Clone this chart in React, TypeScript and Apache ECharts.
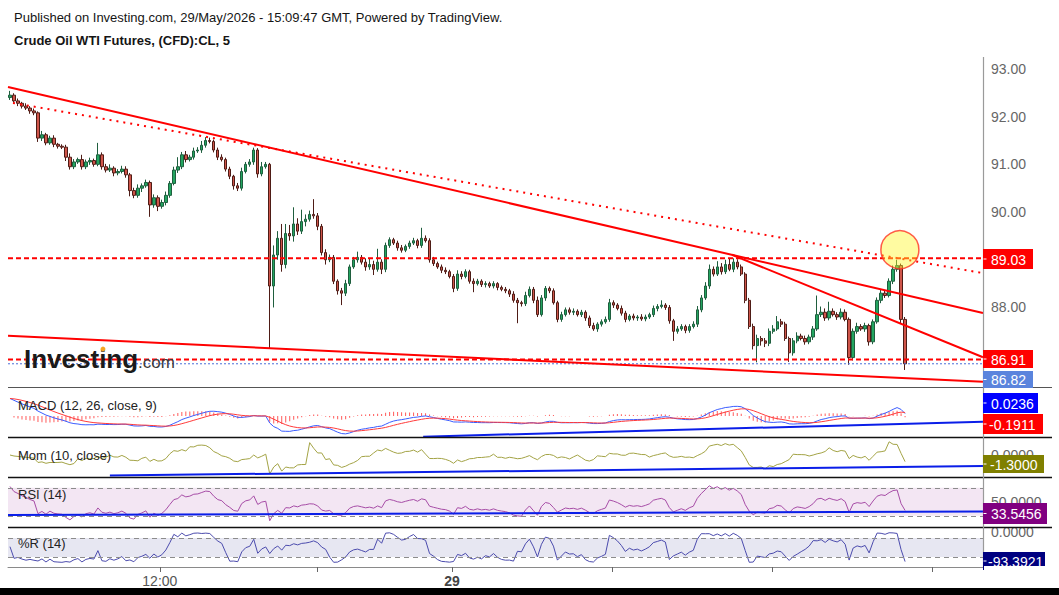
import React, { useEffect, useRef } from "react";
import * as echarts from "echarts";

// ---------- DATA ----------
const firstOpen = 92.4;
const closes = [
  92.45, 92.33, 92.28, 92.22, 92.18, 92.12, 92.08, 91.55, 91.62, 91.45,
  91.55, 91.42, 91.38, 91.36, 91.15, 90.95, 91.05, 91.1, 90.95, 91.05,
  91.08, 91.0, 91.2, 90.95, 90.88, 90.92, 90.82, 90.85, 90.9, 90.78,
  90.45, 90.35, 90.5, 90.55, 90.62, 90.15, 90.3, 90.12, 90.2, 90.35,
  90.6, 90.88, 90.95, 91.2, 91.1, 91.15, 91.28, 91.3, 91.4, 91.5,
  91.48, 91.3, 91.15, 91.1, 90.9, 90.75, 90.55, 90.5, 90.85, 91.0,
  91.05, 91.3, 90.8, 90.95, 91.0, 88.45, 89.1, 89.45, 88.9, 89.55,
  89.5, 89.75, 89.6, 89.8, 89.85, 89.95, 89.92, 89.7, 89.15, 89.0,
  89.05, 88.55, 88.35, 88.3, 88.5, 88.85, 89.0, 89.05, 88.95, 88.85,
  88.9, 88.8, 88.95, 88.8, 89.3, 89.42, 89.35, 89.25, 89.2, 89.28,
  89.35, 89.4, 89.3, 89.45, 89.4, 89.0, 88.92, 88.85, 88.78, 88.75,
  88.65, 88.4, 88.7, 88.65, 88.75, 88.55, 88.5, 88.55, 88.48, 88.5,
  88.45, 88.5, 88.42, 88.38, 88.35, 88.28, 88.15, 88.1, 88.08, 88.25,
  88.38, 88.15, 87.85, 88.2, 88.4, 88.35, 88.1, 87.75, 87.85, 87.95,
  87.9, 87.92, 87.85, 87.9, 87.78, 87.62, 87.55, 87.65, 87.7, 87.75,
  88.1, 88.05, 87.98, 87.88, 87.75, 87.82, 87.78, 87.8, 87.76, 87.8,
  87.85, 87.98, 88.02, 88.05, 88.0, 87.72, 87.5, 87.55, 87.6, 87.52,
  87.6, 87.65, 87.95, 88.2, 88.45, 88.8, 88.7, 88.85, 88.75, 88.9,
  88.8, 88.95, 88.85, 88.7, 88.15, 87.6, 87.2, 87.35, 87.3, 87.25,
  87.5, 87.55, 87.7, 87.65, 87.35, 87.05, 87.3, 87.4, 87.35, 87.28,
  87.38, 87.55, 87.85, 87.9, 87.78, 87.92, 87.85, 87.8, 87.9, 87.75,
  86.95, 87.5, 87.6, 87.55, 87.62, 87.28, 87.7, 88.15, 88.3, 88.25,
  88.55, 88.8, 88.88, 87.75, 86.82,
];
// upper / lower wick lengths in cents
const upperWickCents = [
  9, 4, 5, 3, 6, 4, 5, 3, 8, 4,
  5, 6, 3, 4, 5, 8, 6, 4, 10, 5,
  6, 4, 25, 5, 6, 8, 4, 5, 7, 6,
  4, 6, 8, 5, 6, 4, 7, 5, 6, 8,
  5, 7, 20, 6, 8, 5, 7, 6, 9, 7,
  6, 4, 5, 6, 4, 5, 3, 6, 8, 5,
  6, 5, 4, 10, 5, 3, 20, 15, 30, 20,
  18, 35, 12, 25, 10, 8, 32, 6, 5, 7,
  6, 5, 4, 6, 8, 5, 6, 12, 5, 8,
  12, 8, 28, 6, 6, 5, 4, 5, 6, 4,
  5, 6, 4, 22, 6, 5, 6, 4, 5, 6,
  4, 5, 8, 6, 5, 4, 6, 5, 4, 5,
  4, 5, 3, 4, 5, 4, 6, 5, 4, 8,
  6, 5, 8, 6, 5, 4, 5, 4, 6, 5,
  5, 6, 4, 5, 4, 5, 6, 4, 5, 6,
  8, 5, 4, 6, 5, 4, 5, 4, 6, 5,
  4, 6, 5, 10, 4, 5, 4, 6, 5, 4,
  5, 6, 8, 6, 8, 10, 6, 12, 8, 10,
  12, 8, 6, 5, 4, 5, 6, 8, 5, 6,
  6, 8, 12, 6, 5, 4, 6, 8, 5, 6,
  5, 6, 40, 12, 8, 20, 6, 5, 8, 6,
  4, 6, 8, 5, 6, 4, 5, 6, 8, 5,
  6, 8, 12, 4, 5,
];
const lowerWickCents = [
  5, 4, 6, 5, 4, 6, 5, 8, 6, 5,
  4, 6, 5, 4, 8, 6, 5, 4, 6, 5,
  6, 5, 4, 6, 5, 4, 7, 5, 4, 6,
  12, 6, 5, 8, 4, 25, 6, 10, 5, 6,
  5, 4, 6, 5, 6, 4, 5, 4, 6, 5,
  4, 5, 6, 4, 5, 6, 8, 6, 5, 4,
  5, 6, 8, 5, 4, 130, 45, 10, 15, 8,
  10, 12, 8, 6, 10, 5, 6, 8, 6, 10,
  5, 6, 8, 25, 6, 5, 4, 6, 5, 8,
  6, 12, 5, 10, 6, 5, 4, 6, 5, 4,
  5, 4, 6, 5, 4, 6, 5, 4, 6, 5,
  4, 8, 5, 6, 4, 5, 18, 4, 5, 6,
  4, 5, 6, 4, 5, 6, 5, 43, 6, 5,
  4, 6, 5, 4, 6, 5, 4, 6, 5, 4,
  5, 6, 4, 5, 6, 5, 4, 6, 5, 4,
  5, 6, 4, 5, 6, 4, 5, 6, 4, 5,
  4, 5, 6, 4, 5, 6, 20, 5, 4, 6,
  5, 4, 6, 5, 4, 6, 5, 4, 6, 5,
  4, 6, 5, 4, 6, 5, 8, 35, 10, 8,
  6, 5, 4, 6, 5, 19, 6, 5, 4, 6,
  5, 6, 4, 5, 6, 5, 4, 6, 5, 4,
  15, 6, 5, 4, 6, 8, 5, 4, 6, 5,
  4, 6, 5, 8, 13,
];

// slots on the time axis (bars + empty space on the right)
const SLOTS = 244;

// price axis ticks
const priceTicks = [87, 88, 89, 90, 91, 92, 93];

// horizontal levels
const resistanceLevel = 89.03;
const supportLevel = 86.91;

// drawn trend lines [barIndex, price]
const trendUpperSolid = [[-0.5, 92.623], [243.5, 87.883]];
const trendUpperDotted = [[0.75, 92.287], [243.5, 88.72]];
const trendSteep = [[180.7, 89.104], [243.5, 86.956]];
const trendLower = [[-0.5, 87.405], [243.5, 86.441]];
const highlightPoint = [[222.7, 89.21]];

// indicator trend lines [barIndex, value]
const macdTrend = [[103.4, -0.59], [243.5, -0.165]];
const momTrend = [[25.0, -2.47], [243.5, -1.33]];
const rsiTrend = [[-0.5, 31.1], [243.5, 36.1]];

// prior indicator state (from bars before the visible window)
const priorEma12 = 92.55;
const priorEma26 = 92.0;
const priorSignal = 0.5;
const priorAvgGain = 0.06;
const priorAvgLoss = 0.025;

// last values shown in the scale boxes
const lastMacd = "0.0236";
const lastSignal = "-0.1911";
const lastMom = "-1.3000";
const lastRsi = "33.5456";
const lastWr = "-93.3921";

// time axis
const timeTickBars = [37.5, 77, 110.6, 150.6, 190.7, 230.7];
const timeTickLabels = ["12:00", "", "29", "", "", ""];
const timeLabelBars = [37.5, 110.6];

const FONT = '"Liberation Sans", Arial, Helvetica, sans-serif';

function buildOption() {
  const n = closes.length;
  const opens = closes.map((c, i) => (i === 0 ? firstOpen : closes[i - 1]));
  const highs = closes.map((c, i) => +(Math.max(opens[i], c) + upperWickCents[i] / 100).toFixed(2));
  const lows = closes.map((c, i) => +(Math.min(opens[i], c) - lowerWickCents[i] / 100).toFixed(2));
  const candles = closes.map((c, i) => [opens[i], c, lows[i], highs[i]]);

  const ema = (arr: number[], p: number, seed: number) => {
    const k = 2 / (p + 1);
    let e = seed;
    return arr.map((v) => (e = v * k + e * (1 - k)));
  };
  const e12 = ema(closes, 12, priorEma12);
  const e26 = ema(closes, 26, priorEma26);
  const macd = e12.map((v, i) => v - e26[i]);
  const signal = ema(macd, 9, priorSignal);
  const hist = macd.map((v, i) => v - signal[i]);

  const mom = closes.map((c, i) => c - closes[Math.max(0, i - 10)]);

  let ag = priorAvgGain;
  let al = priorAvgLoss;
  const rsi = closes.map((c, i) => {
    const ch = c - opens[i];
    ag = (ag * 13 + Math.max(ch, 0)) / 14;
    al = (al * 13 + Math.max(-ch, 0)) / 14;
    return 100 - 100 / (1 + ag / al);
  });

  const wr = closes.map((c, i) => {
    const s = Math.max(0, i - 13);
    const hh = Math.max(...highs.slice(s, i + 1));
    const ll = Math.min(...lows.slice(s, i + 1));
    return ((hh - c) / (hh - ll)) * -100;
  });

  const cats = Array.from({ length: SLOTS }, (_, i) => String(i));
  const gridTops = [57, 388, 438, 478, 528];
  const gridHeights = [330, 49, 39, 49, 39];
  const grid = gridTops.map((t, i) => ({ left: 8, width: 975, top: t, height: gridHeights[i] }));

  const xAxis: any[] = [];
  for (let g = 0; g < 5; g++) {
    xAxis.push({ type: "category", gridIndex: g, data: cats, boundaryGap: true, show: false });
    if (g < 4) {
      xAxis.push({ type: "value", gridIndex: g, min: -0.5, max: SLOTS - 0.5, show: false });
    } else {
      xAxis.push({
        type: "value",
        gridIndex: g,
        min: -0.5,
        max: SLOTS - 0.5,
        show: true,
        position: "bottom",
        splitLine: { show: false },
        axisLine: { show: true, lineStyle: { color: "#8a8a8a", width: 1 } },
        axisTick: { show: true, customValues: timeTickBars, length: 5, lineStyle: { color: "#666" } },
        axisLabel: {
          customValues: timeLabelBars,
          margin: 7,
          color: "#555",
          fontSize: 14,
          fontFamily: FONT,
          formatter: (v: number) => {
            const k = timeTickBars.findIndex((t) => Math.abs(t - v) < 0.01);
            const lab = k >= 0 ? timeTickLabels[k] : "";
            return lab === "29" ? "{b|" + lab + "}" : lab;
          },
          rich: { b: { fontWeight: "bold", fontSize: 14, color: "#444", fontFamily: FONT } },
        },
      });
    }
  }

  const sideLabel = (vals: number[], fmt: (v: number) => string) => ({
    customValues: vals,
    color: "#666",
    fontSize: 14,
    fontFamily: FONT,
    margin: 8,
    formatter: fmt,
  });

  const yAxis: any[] = [
    {
      type: "value", gridIndex: 0, min: 86.333, max: 93.25, position: "right",
      splitLine: { show: false }, axisLine: { show: false }, axisTick: { show: false },
      axisLabel: sideLabel(priceTicks, (v) => v.toFixed(2)),
    },
    { type: "value", gridIndex: 1, min: -0.6, max: 0.8, show: false, splitLine: { show: false } },
    {
      type: "value", gridIndex: 2, min: -2.66, max: 2.06, position: "right",
      splitLine: { show: false }, axisLine: { show: false }, axisTick: { show: false },
      axisLabel: sideLabel([0], (v) => v.toFixed(4)),
    },
    {
      type: "value", gridIndex: 3, min: 14, max: 84, position: "right",
      splitLine: { show: false }, axisLine: { show: false }, axisTick: { show: false },
      axisLabel: sideLabel([50], (v) => v.toFixed(4)),
    },
    {
      type: "value", gridIndex: 4, min: -111.5, max: 11.7, position: "right",
      splitLine: { show: false }, axisLine: { show: false }, axisTick: { show: false },
      axisLabel: sideLabel([0], (v) => v.toFixed(4)),
    },
  ];

  const tline = (data: number[][], xi: number, yi: number, style: any, z = 3) => ({
    type: "line", xAxisIndex: xi, yAxisIndex: yi, data, symbol: "none", silent: true, z,
    lineStyle: style,
  });
  const full = (p: number) => [[-0.5, p], [SLOTS - 0.5, p]];

  const indLine = (data: number[], xi: number, yi: number, color: string, extra: any = {}) => ({
    type: "line", xAxisIndex: xi, yAxisIndex: yi, data, symbol: "none", showSymbol: false, silent: true,
    lineStyle: { color, width: 1 }, ...extra,
  });

  const bandMark = (lo: number, hi: number, fill: string) => ({
    markArea: { silent: true, itemStyle: { color: fill }, data: [[{ yAxis: lo }, { yAxis: hi }]] },
    markLine: {
      silent: true, symbol: "none", label: { show: false },
      lineStyle: { color: "#8c8c8c", type: [5, 4], width: 1 },
      data: [{ yAxis: lo }, { yAxis: hi }],
    },
  });

  const series: any[] = [
    {
      type: "candlestick", xAxisIndex: 0, yAxisIndex: 0, data: candles, barWidth: "72%", z: 2,
      itemStyle: {
        color: "#23a560", color0: "#cf554a", borderColor: "#1f5e3e", borderColor0: "#4e1c16", borderWidth: 1,
      },
    },
    tline(full(resistanceLevel), 1, 0, { color: "#ff0000", width: 2, type: [5, 3] }),
    tline(full(supportLevel), 1, 0, { color: "#ff0000", width: 2, type: [5, 3] }),
    tline(full(closes[n - 1]), 1, 0, { color: "#4a6fd8", width: 1, type: [2, 2] }),
    tline(trendUpperSolid, 1, 0, { color: "#ff0000", width: 2 }),
    tline(trendUpperDotted, 1, 0, { color: "#ff0000", width: 2, type: [2, 5] }),
    tline(trendSteep, 1, 0, { color: "#ff0000", width: 2 }),
    tline(trendLower, 1, 0, { color: "#ff0000", width: 2 }),
    {
      type: "scatter", xAxisIndex: 1, yAxisIndex: 0, data: highlightPoint, symbolSize: 38, silent: true, z: 5,
      itemStyle: { color: "rgba(255,245,40,0.55)", borderColor: "#ff3322", borderWidth: 1.5 },
    },
    // MACD
    {
      type: "bar", xAxisIndex: 2, yAxisIndex: 1, data: hist, barWidth: 1, silent: true,
      itemStyle: { color: "#ff5a5a" },
    },
    indLine(macd, 2, 1, "#3a5cff"),
    indLine(signal, 2, 1, "#ff3a3a"),
    tline(macdTrend, 3, 1, { color: "#0a1ee8", width: 2 }),
    // Momentum
    indLine(mom, 4, 2, "#a3a345"),
    tline(momTrend, 5, 2, { color: "#0a1ee8", width: 2 }),
    // RSI
    indLine(rsi, 6, 3, "#a64ca6", bandMark(30, 70, "#f3e6f3")),
    tline(rsiTrend, 7, 3, { color: "#0a1ee8", width: 2 }),
    // Williams %R
    indLine(wr, 8, 4, "#4b4bad", bandMark(-80, -20, "#e7e7f2")),
  ];

  const Z = 100;
  const text = (x: number, y: number, t: string, size: number, extra: any = {}) => ({
    type: "text", x, y, z: Z, silent: true,
    style: { text: t, fontSize: size, fontFamily: FONT, fill: "#151515", verticalAlign: "middle", align: "left", ...extra },
  });
  const hline = (x1: number, x2: number, y: number, color: string, w: number) => ({
    type: "line", z: Z, silent: true, shape: { x1, y1: y, x2, y2: y }, style: { stroke: color, lineWidth: w },
  });
  const boxes: [number, number, number, string, string, number][] = [
    [249, 50, 20, "#ff0000", resistanceLevel.toFixed(2), 991],
    [350, 50, 18, "#ff0000", supportLevel.toFixed(2), 991],
    [371, 50, 17, "#5a84dd", closes[n - 1].toFixed(2), 991],
    [393, 55, 20, "#0000ff", lastMacd, 991],
    [414, 60, 20, "#ff0000", lastSignal, 989],
    [455, 61, 18, "#808000", lastMom, 990],
    [503, 64, 21, "#800080", lastRsi, 991],
    [552, 62, 18, "#000080", lastWr, 988],
  ];
  const boxEls: any[] = [];
  boxes.forEach(([y, w, h, c, t, tx]) => {
    boxEls.push({ type: "rect", z: Z + 1, silent: true, shape: { x: 983, y, width: w, height: h }, style: { fill: c } });
    boxEls.push({ type: "line", z: Z + 2, silent: true, shape: { x1: 983.5, y1: y + h / 2, x2: 986.5, y2: y + h / 2 }, style: { stroke: "#fff", lineWidth: 1 } });
    boxEls.push({ ...text(tx, y + h / 2 + 0.5, t, 14, { fill: "#ffffff" }), z: Z + 2 });
  });

  const graphic: any[] = [
    text(14, 17, "Published on Investing.com, 29/May/2026 - 15:09:47 GMT, Powered by TradingView.", 13),
    text(14, 40, "Crude Oil WTI Futures, (CFD):CL, 5", 13, { fontWeight: "bold" }),
    text(24, 359, "Investing", 26, { fontWeight: "bold", fill: "#1b1b1b" }),
    text(138, 362, ".com", 17, { fill: "#3a3a3a" }),
    { type: "circle", z: Z + 1, silent: true, shape: { cx: 103, cy: 349, r: 2.4 }, style: { fill: "#f5a623" } },
    text(18, 405, "MACD (12, 26, close, 9)", 13, { fill: "#222" }),
    text(18, 455, "Mom (10, close)", 13, { fill: "#222" }),
    text(18, 494, "RSI (14)", 13, { fill: "#222" }),
    text(18, 543, "%R (14)", 13, { fill: "#222" }),
    hline(8, 1052, 387.5, "#555", 1.2),
    hline(8, 1052, 437.5, "#111", 1.6),
    hline(8, 1052, 477.5, "#111", 1.6),
    hline(8, 1052, 527.5, "#111", 1.6),
    { type: "line", z: Z, silent: true, shape: { x1: 983.5, y1: 57, x2: 983.5, y2: 567 }, style: { stroke: "#9a9a9a", lineWidth: 1.2 } },
    ...boxEls,
    { type: "rect", z: Z + 5, silent: true, shape: { x: 984, y: 566, width: 75, height: 22 }, style: { fill: "#fff" } },
    { type: "rect", z: Z + 5, silent: true, shape: { x: 0, y: 588, width: 1059, height: 7 }, style: { fill: "#000" } },
  ];

  return {
    animation: false,
    backgroundColor: "#ffffff",
    textStyle: { fontFamily: FONT },
    grid,
    xAxis,
    yAxis,
    series,
    graphic,
  };
}

export default function App() {
  const ref = useRef<HTMLDivElement>(null);
  useEffect(() => {
    if (!ref.current) return;
    const chart = echarts.init(ref.current, null, { renderer: "svg" });
    chart.setOption(buildOption() as any);
    return () => chart.dispose();
  }, []);
  return (
    <div
      ref={ref}
      style={{ position: "fixed", left: 0, top: 0, width: 1059, height: 595, background: "#fff" }}
    />
  );
}
